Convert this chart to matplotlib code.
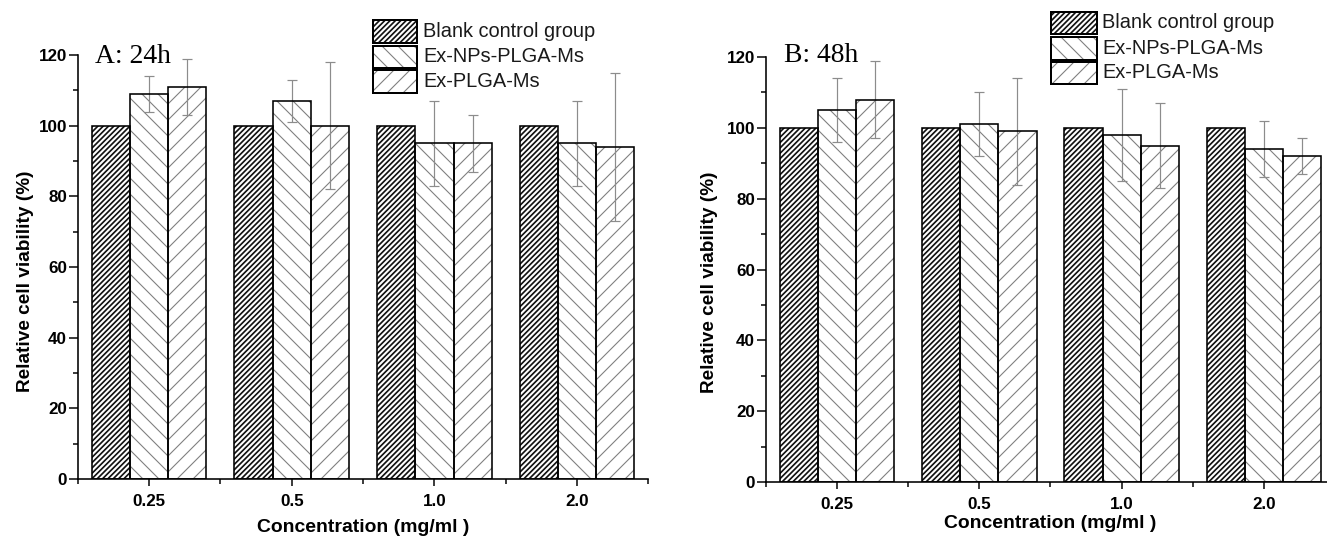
import matplotlib
matplotlib.use('Agg')
import matplotlib.pyplot as plt
from matplotlib.patches import Rectangle
from matplotlib.ticker import MultipleLocator, FixedLocator
import numpy as np

# ---------------- data ----------------
categories = ['0.25', '0.5', '1.0', '2.0']
series_names = ['Blank control group', 'Ex-NPs-PLGA-Ms', 'Ex-PLGA-Ms']

a_blank = [100, 100, 100, 100]
a_nps = [109, 107, 95, 95]
a_nps_err = [5, 6, 12, 12]
a_plga = [111, 100, 95, 94]
a_plga_err = [8, 18, 8, 21]

b_blank = [100, 100, 100, 100]
b_nps = [105, 101, 98, 94]
b_nps_err = [9, 9, 13, 8]
b_plga = [108, 99, 95, 92]
b_plga_err = [11, 15, 12, 5]

y_ticks = [0, 20, 40, 60, 80, 100, 120]
panel_titles = ['A: 24h', 'B: 48h']
x_label = 'Concentration (mg/ml )'
y_label = 'Relative cell viability (%)'

# ---------------- style ----------------
plt.rcParams['font.family'] = ['Liberation Sans', 'DejaVu Sans']
plt.rcParams['hatch.linewidth'] = 0.55

DPI = 144
W, H = 1327, 537
fig = plt.figure(figsize=(W / DPI, H / DPI), dpi=DPI)
fig.patch.set_facecolor('white')


def rect_px(left, top, right, bottom):
    return [left / W, 1 - bottom / H, (right - left) / W, (bottom - top) / H]


HATCHES = ['/////////', '\\\\\\', '///']
HATCH_COLORS = ['#111111', '#808080', '#808080']
HATCH_LW = [0.85, 0.55, 0.55]
BAR_W = 0.268


def set_hlw(patch, lw):
    if hasattr(patch, 'set_hatch_linewidth'):
        patch.set_hatch_linewidth(lw)


def draw_panel(ax, vals, errs, title, title_x, title_y, ylab_xy, xlab_y):
    x = np.arange(len(categories))
    offsets = [-BAR_W, 0, BAR_W]
    for i in range(3):
        xs = x + offsets[i]
        hb = ax.bar(xs, vals[i], BAR_W, color='white', edgecolor=HATCH_COLORS[i],
                    linewidth=0, hatch=HATCHES[i], zorder=2)
        for p in hb:
            set_hlw(p, HATCH_LW[i])
        ax.bar(xs, vals[i], BAR_W, color='none', edgecolor='black', linewidth=0.8, zorder=4)
        if errs[i] is not None:
            ax.errorbar(xs, vals[i], yerr=errs[i], fmt='none', ecolor='#8c8c8c',
                        elinewidth=0.6, capsize=2.5, capthick=0.6, zorder=3)
    ax.set_xlim(-0.5, 3.5)
    ax.set_ylim(0, 120)
    ax.set_xticks(x)
    ax.set_xticklabels(categories, fontweight='bold', fontsize=8.5)
    ax.xaxis.set_minor_locator(FixedLocator([-0.5, 0.5, 1.5, 2.5, 3.5]))
    ax.set_yticks(y_ticks)
    ax.set_yticklabels([str(t) for t in y_ticks], fontweight='bold', fontsize=8.5)
    ax.yaxis.set_minor_locator(MultipleLocator(10))
    ax.tick_params(axis='x', which='major', direction='out', length=3.5, width=0.75, pad=4)
    ax.tick_params(axis='x', which='minor', direction='out', length=2.5, width=0.75)
    ax.tick_params(axis='y', which='major', direction='out', length=4.5, width=0.75, pad=0.8)
    ax.tick_params(axis='y', which='minor', direction='out', length=2.5, width=0.75)
    for s in ['top', 'right']:
        ax.spines[s].set_visible(False)
    for s in ['left', 'bottom']:
        ax.spines[s].set_linewidth(0.8)
    ax.set_ylabel(y_label, fontweight='bold', fontsize=9.5)
    ax.yaxis.set_label_coords(*ylab_xy)
    ax.set_xlabel(x_label, fontweight='bold', fontsize=9.7)
    ax.xaxis.set_label_coords(0.5, xlab_y)
    # x in axes coords, y in data coords
    ax.text(title_x, title_y, title, transform=ax.get_yaxis_transform(),
            fontsize=13.8, family=['Liberation Serif', 'DejaVu Serif'],
            ha='left', va='baseline')


axA = fig.add_axes(rect_px(77.7, 55, 648.4, 479))
draw_panel(axA, [a_blank, a_nps, a_plga], [None, a_nps_err, a_plga_err],
           panel_titles[0], 0.030, 117.7, (-0.076, 0.467), -0.095)

axB = fig.add_axes(rect_px(765.8, 57, 1335.1, 482))
draw_panel(axB, [b_blank, b_nps, b_plga], [None, b_nps_err, b_plga_err],
           panel_titles[1], 0.032, 118.6, (-0.084, 0.47), -0.078)


# ---------------- legends (figure pixel coordinates) ----------------
def draw_legend(x0, x1, rows, text_x):
    for i, (top, bot) in enumerate(rows):
        r = Rectangle((x0 / W, 1 - bot / H), (x1 - x0) / W, (bot - top) / H,
                      transform=fig.transFigure, facecolor='white',
                      edgecolor=HATCH_COLORS[i], linewidth=0, hatch=HATCHES[i])
        set_hlw(r, HATCH_LW[i])
        fig.add_artist(r)
        o = Rectangle((x0 / W, 1 - bot / H), (x1 - x0) / W, (bot - top) / H,
                      transform=fig.transFigure, facecolor='none',
                      edgecolor='black', linewidth=1.0)
        fig.add_artist(o)
        fig.text(text_x / W, 1 - ((top + bot) / 2) / H, series_names[i],
                 fontsize=10, ha='left', va='center', color='#1a1a1a')


draw_legend(373, 417, [(20, 43), (45.5, 67.5), (70.5, 93)], 423)
draw_legend(1051, 1097, [(12, 34), (37, 59.5), (62, 84)], 1102)

fig.savefig('out.png', dpi=DPI, facecolor='white')
